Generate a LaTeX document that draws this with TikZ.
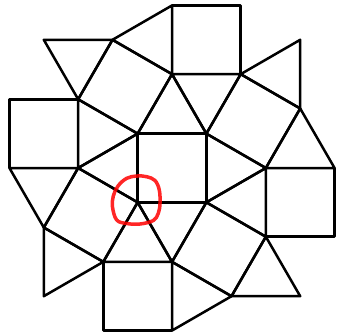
\documentclass[tikz,border=0pt]{standalone}
\begin{document}
\begin{tikzpicture}[x=1pt,y=-1pt,
  edge/.style={draw=black,line width=2.5pt,line join=round,line cap=round},
  redmark/.style={draw=red,line width=3.5pt,opacity=0.85,line cap=round,line join=round}]
\useasboundingbox (0,0) rectangle (337,335);
% center square
\coordinate (A) at (137.65,133.65);
\coordinate (B) at (206.35,133.65);
\coordinate (C) at (206.35,202.35);
\coordinate (D) at (137.65,202.35);
% apexes
\coordinate (PT) at (172,74.15);
\coordinate (PR) at (265.85,168);
\coordinate (PB) at (172,261.85);
\coordinate (PL) at (78.15,168);
% axis squares
\coordinate (TS1) at (240.7,74.15);
\coordinate (TS2) at (240.7,5.45);
\coordinate (TS3) at (172,5.45);
\coordinate (RS1) at (265.85,236.7);
\coordinate (RS2) at (334.55,236.7);
\coordinate (RS3) at (334.55,168);
\coordinate (BS1) at (103.3,261.85);
\coordinate (BS2) at (103.3,330.55);
\coordinate (BS3) at (172,330.55);
\coordinate (LS1) at (78.15,99.3);
\coordinate (LS2) at (9.45,99.3);
\coordinate (LS3) at (9.45,168);
% tilted square outer corners
\coordinate (Q1) at (112.5,39.8);
\coordinate (Q2) at (300.2,108.5);
\coordinate (Q3) at (231.5,296.2);
\coordinate (Q4) at (43.8,227.5);
% corner triangle tips
\coordinate (W1) at (43.8,39.8);
\coordinate (W2) at (300.2,39.8);
\coordinate (W3) at (300.2,296.2);
\coordinate (W4) at (43.8,296.2);

% squares
\draw[edge] (A) -- (B) -- (C) -- (D) -- cycle;
\draw[edge] (PT) -- (TS1) -- (TS2) -- (TS3) -- cycle;
\draw[edge] (PR) -- (RS1) -- (RS2) -- (RS3) -- cycle;
\draw[edge] (PB) -- (BS1) -- (BS2) -- (BS3) -- cycle;
\draw[edge] (PL) -- (LS1) -- (LS2) -- (LS3) -- cycle;
\draw[edge] (A) -- (PT) -- (Q1) -- (LS1) -- cycle;
\draw[edge] (B) -- (PR) -- (Q2) -- (TS1) -- cycle;
\draw[edge] (C) -- (PB) -- (Q3) -- (RS1) -- cycle;
\draw[edge] (D) -- (PL) -- (Q4) -- (BS1) -- cycle;
% triangles
\draw[edge] (A) -- (B) -- (PT) -- cycle;
\draw[edge] (B) -- (C) -- (PR) -- cycle;
\draw[edge] (C) -- (D) -- (PB) -- cycle;
\draw[edge] (D) -- (A) -- (PL) -- cycle;
\draw[edge] (A) -- (LS1) -- (PL) -- cycle;
\draw[edge] (B) -- (TS1) -- (PT) -- cycle;
\draw[edge] (C) -- (RS1) -- (PR) -- cycle;
\draw[edge] (D) -- (BS1) -- (PB) -- cycle;
\draw[edge] (Q1) -- (TS3) -- (PT) -- cycle;
\draw[edge] (Q2) -- (RS3) -- (PR) -- cycle;
\draw[edge] (Q3) -- (BS3) -- (PB) -- cycle;
\draw[edge] (Q4) -- (LS3) -- (PL) -- cycle;
\draw[edge] (W1) -- (Q1) -- (LS1) -- cycle;
\draw[edge] (W2) -- (TS1) -- (Q2) -- cycle;
\draw[edge] (W3) -- (Q3) -- (RS1) -- cycle;
\draw[edge] (W4) -- (BS1) -- (Q4) -- cycle;

% red hand-drawn mark
\draw[redmark] plot[smooth cycle,tension=0.6] coordinates {
  (118,186) (126.7,178.3) (136.7,176) (146.7,176.7) (155,180.5)
  (159.3,190) (160,203.3) (158.3,213.3) (153.3,220.5) (140,224)
  (126.7,223.5) (116.7,220) (112.5,207) (113.3,196)};
\end{tikzpicture}
\end{document}
